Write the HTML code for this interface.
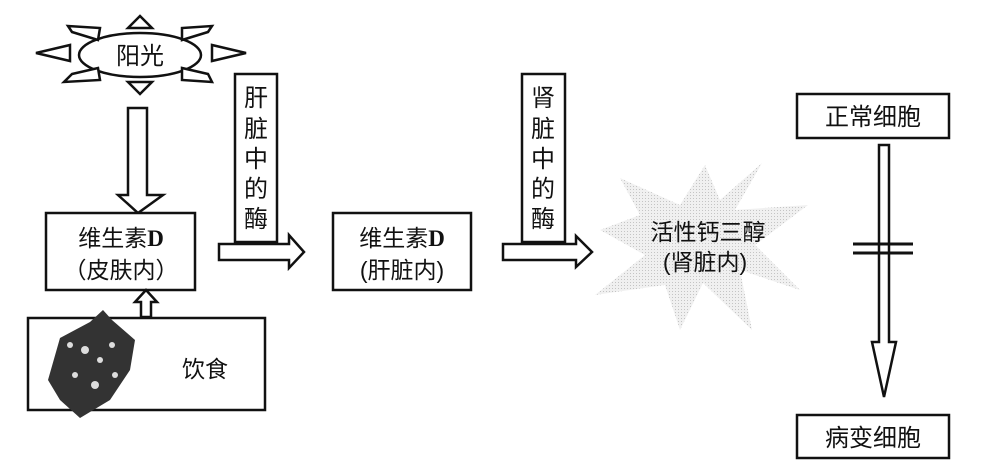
<!DOCTYPE html>
<html><head><meta charset="utf-8"><style>
body{margin:0;width:1000px;height:468px;background:#fff;overflow:hidden}
svg text{font-family:"Liberation Sans","Noto Sans CJK SC",sans-serif;fill:#111}
</style></head><body>
<svg width="1000" height="468" viewBox="0 0 1000 468" xmlns="http://www.w3.org/2000/svg">
<defs><pattern id="dots" width="3" height="3" patternUnits="userSpaceOnUse"><rect width="3" height="3" fill="#f0f0f0"/><rect width="1" height="1" fill="#c4c4c4"/></pattern></defs>
<g fill="#fff" stroke="#111" stroke-width="2.5">
<ellipse cx="140" cy="55" rx="61" ry="22"/>
<polygon points="128,28 152,28 140,16"/>
<polygon points="128,82 152,82 140,94"/>
<polygon points="70,45 70,61 36,53"/>
<polygon points="212,45 212,61 246,53"/>
<polygon points="72,32 98,40 100,28 68,26"/>
<polygon points="182,28 182,40 208,32 212,26"/>
<polygon points="72,74 98,68 100,80 64,82"/>
<polygon points="182,68 182,80 212,82 208,74"/>
<polygon points="128,108 147,108 147,195 163,195 138,213 118,195 128,195"/>
<rect x="46" y="213" width="149" height="77"/>
<polygon points="141,317 151,317 151,302 157,302 146,290 135,302 141,302"/>
<rect x="28" y="318" width="237" height="92"/>
<rect x="235" y="74" width="42" height="168"/>
<polygon points="219,244 289,244 289,235 304,252 289,268 289,260 219,260"/>
<rect x="333" y="213" width="138" height="77"/>
<rect x="522" y="74" width="43" height="168"/>
<polygon points="503,244 576,244 576,236 592,252 576,267 576,260 503,260"/>
<rect x="797" y="94" width="152" height="44"/>
<rect x="797" y="415" width="152" height="43"/>
<polygon points="879,145 889,145 889,342 896,342 884,397 872,342 879,342"/>
</g>
<line x1="853" y1="244" x2="913" y2="244" stroke="#111" stroke-width="3"/>
<line x1="853" y1="253" x2="913" y2="253" stroke="#111" stroke-width="3"/>
<polygon fill="url(#dots)" points="762,163 735,210 808,205 755,245 800,290 740,270 752,330 703,283 680,330 665,285 595,295 645,255 600,230 640,215 620,178 680,205 705,165 720,200"/>
<path d="M60,338 L90,322 L103,310 L112,320 L135,340 L130,370 L110,400 L80,418 L60,400 L48,380 Z" fill="#333"/>
<g fill="#ddd"><circle cx="85" cy="350" r="4"/><circle cx="100" cy="360" r="3"/><circle cx="75" cy="375" r="3"/><circle cx="95" cy="385" r="4"/><circle cx="112" cy="345" r="3"/><circle cx="70" cy="345" r="3"/><circle cx="115" cy="375" r="3"/></g>
<text x="140" y="64" font-size="24" text-anchor="middle">阳光</text>
<text x="121" y="246" font-size="23" text-anchor="middle">维生素<tspan font-family="Liberation Serif" font-weight="bold">D</tspan></text>
<text x="121" y="278" font-size="23" text-anchor="middle">（皮肤内）</text>
<text x="205" y="377" font-size="23" text-anchor="middle">饮食</text>
<g font-size="24" text-anchor="middle">
<text x="256" y="106">肝</text><text x="256" y="137">脏</text><text x="256" y="167">中</text><text x="256" y="197">的</text><text x="256" y="227">酶</text>
<text x="543" y="106">肾</text><text x="543" y="137">脏</text><text x="543" y="167">中</text><text x="543" y="197">的</text><text x="543" y="227">酶</text>
</g>
<text x="402" y="246" font-size="23" text-anchor="middle">维生素<tspan font-family="Liberation Serif" font-weight="bold">D</tspan></text>
<text x="402" y="278" font-size="23" text-anchor="middle">(肝脏内)</text>
<text x="708" y="240" font-size="23" text-anchor="middle">活性钙三醇</text>
<text x="705" y="270" font-size="23" text-anchor="middle">(肾脏内)</text>
<text x="873" y="125" font-size="24" text-anchor="middle">正常细胞</text>
<text x="873" y="446" font-size="24" text-anchor="middle">病变细胞</text>
</svg>
</body></html>
